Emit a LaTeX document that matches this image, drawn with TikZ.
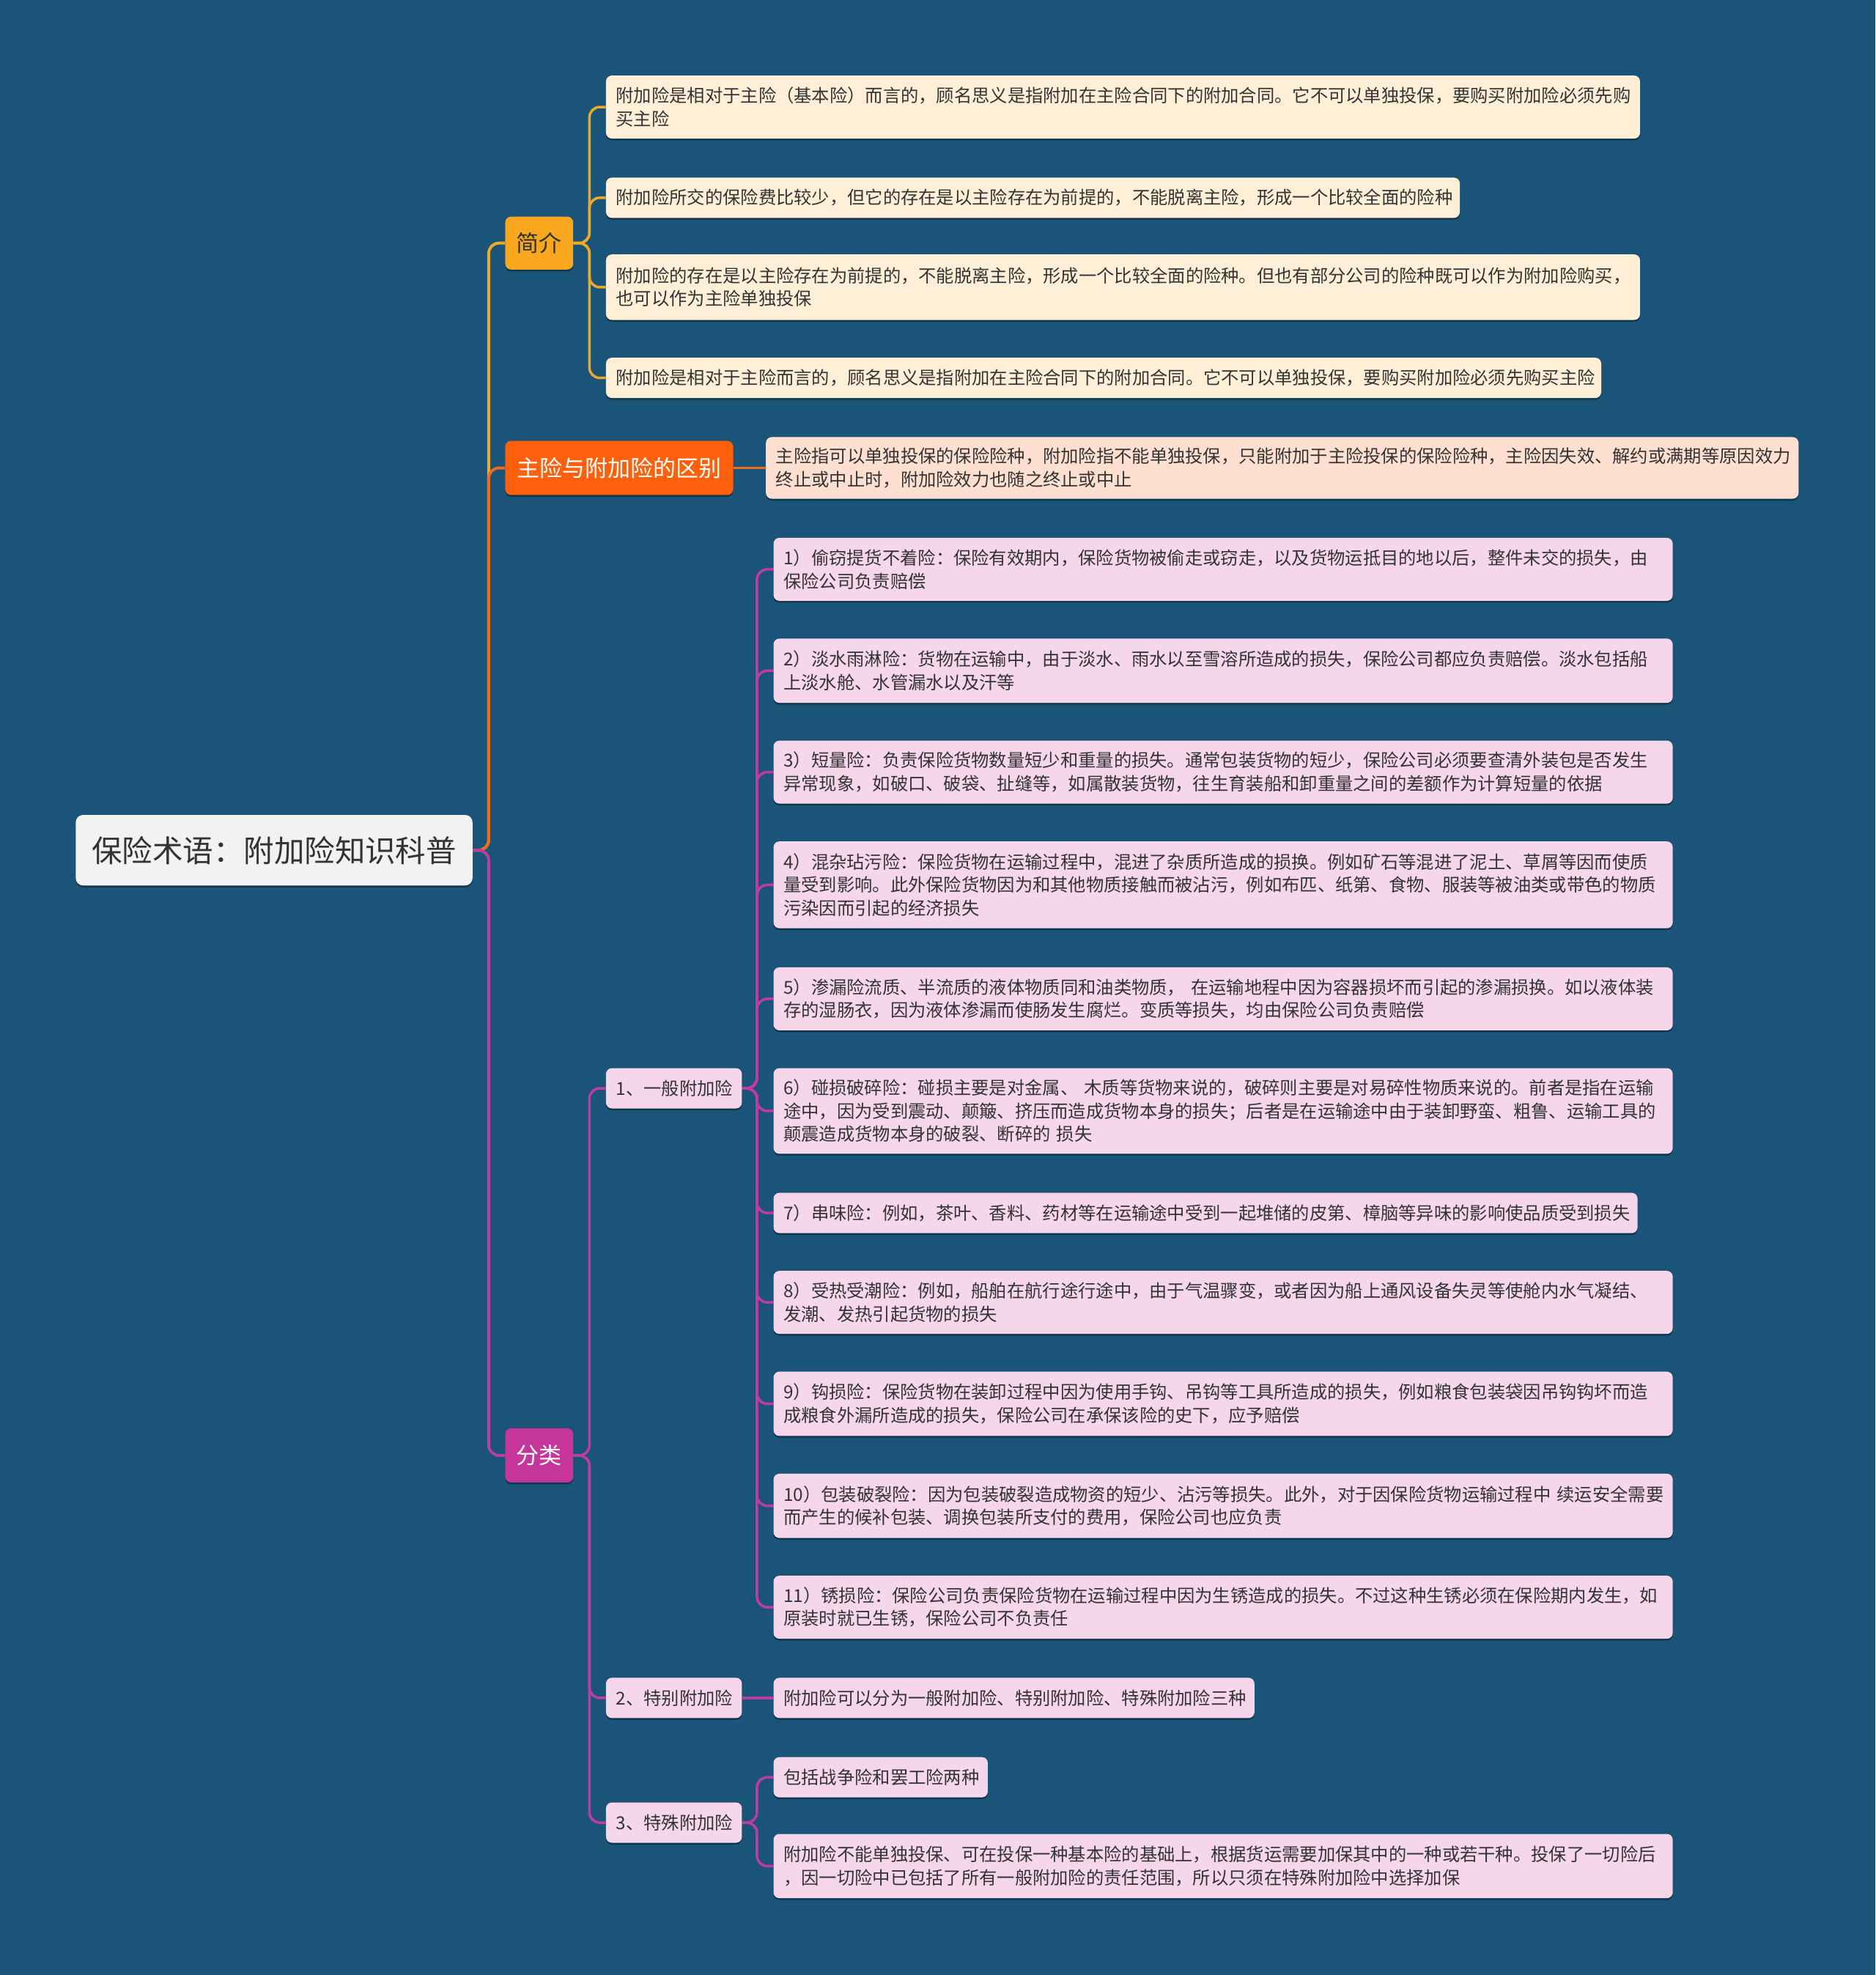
\documentclass[tikz,border=0pt]{standalone}
\usepackage{fontspec}
\setmainfont{Noto Sans CJK SC}
\usetikzlibrary{shadows}
\definecolor{bgblue}{HTML}{1A5479}
\definecolor{rootfill}{HTML}{F2F2F2}
\definecolor{txtdark}{HTML}{333333}
\definecolor{yelfill}{HTML}{F8A71F}
\definecolor{orgfill}{HTML}{FF600C}
\definecolor{magfill}{HTML}{C5359A}
\definecolor{yelline}{HTML}{EFA92A}
\definecolor{orgline}{HTML}{F26A1D}
\definecolor{magline}{HTML}{C03C9E}
\definecolor{creamfill}{HTML}{FFEFD6}
\definecolor{peachfill}{HTML}{FFDFD0}
\definecolor{pinkfill}{HTML}{F5D6EB}
\newcommand\leaffont{\fontsize{24.3pt}{31.5pt}\selectfont}
\newcommand\branchfont{\fontsize{31pt}{36pt}\selectfont}
\newcommand\rootfont{\fontsize{41.5pt}{48pt}\selectfont}
\pgfdeclarelayer{bglayer}
\pgfdeclarelayer{edgelayer}
\pgfsetlayers{bglayer,edgelayer,main}
\tikzset{
  boxbase/.style={rounded corners=8pt, anchor=west, inner ysep=2pt,
    drop shadow={shadow xshift=0pt, shadow yshift=-2.5pt, opacity=0.35, fill=black}},
  leafbox/.style={boxbase, inner xsep=13.75pt, align=left, font=\leaffont, text=txtdark},
  creambox/.style={leafbox, fill=creamfill},
  peachbox/.style={leafbox, fill=peachfill},
  pinkbox/.style={leafbox, fill=pinkfill},
  branchbox/.style={boxbase, inner xsep=0pt, align=center, font=\branchfont},
  conn/.style={line width=3.5pt, rounded corners=14pt},
  trunk/.style={line width=4pt, rounded corners=14pt},
}
\begin{document}
\begin{tikzpicture}[x=1.7193pt, y=-1.7193pt]
\begin{pgfonlayer}{bglayer}
\fill[bgblue] (0,0) rectangle (1489,1568);
\end{pgfonlayer}
\useasboundingbox (0,0) rectangle (1489,1568);

% root
\node[boxbase, rounded corners=10pt, fill=rootfill, text=txtdark, font=\rootfont,
  minimum width=541.6pt, minimum height=96.3pt, inner xsep=0pt, align=center]
  (root) at (60,675) {保险术语：附加险知识科普};

% branches
\node[branchbox, fill=yelfill, text=txtdark, minimum width=92.8pt, minimum height=72.2pt] (b1) at (401,193) {简介};
\node[branchbox, fill=orgfill, text=white, minimum width=311.2pt, minimum height=73.9pt] (b2) at (401,371.5) {主险与附加险的区别};
\node[branchbox, fill=magfill, text=white, minimum width=92.8pt, minimum height=73.9pt] (b3) at (401,1155.5) {分类};

% 简介 leaves
\node[creambox, text width=1384pt, minimum height=86pt] (j1) at (481,85) {附加险是相对于主险（基本险）而言的，顾名思义是指附加在主险合同下的附加合同。它不可以单独投保，要购买附加险必须先购\\买主险};
\node[creambox, text width=1138pt, minimum height=55pt] (j2) at (481,157) {附加险所交的保险费比较少，但它的存在是以主险存在为前提的，不能脱离主险，形成一个比较全面的险种};
\node[creambox, text width=1384pt, minimum height=89.4pt] (j3) at (481,228) {附加险的存在是以主险存在为前提的，不能脱离主险，形成一个比较全面的险种。但也有部分公司的险种既可以作为附加险购买，\\也可以作为主险单独投保};
\node[creambox, text width=1331pt, minimum height=55pt] (j4) at (481,300) {附加险是相对于主险而言的，顾名思义是指附加在主险合同下的附加合同。它不可以单独投保，要购买附加险必须先购买主险};

% 主险 leaf
\node[peachbox, text width=1382pt, minimum height=84.2pt] (z1) at (608,371.5) {主险指可以单独投保的保险险种，附加险指不能单独投保，只能附加于主险投保的保险险种，主险因失效、解约或满期等原因效力\\终止或中止时，附加险效力也随之终止或中止};

% 分类 children
\node[pinkbox, text width=158pt, minimum height=55pt] (c1) at (481,864) {1、一般附加险};
\node[pinkbox, text width=158pt, minimum height=55pt] (c2) at (481,1348) {2、特别附加险};
\node[pinkbox, text width=158pt, minimum height=55pt] (c3) at (481,1447) {3、特殊附加险};

% 一般附加险 leaves
\node[pinkbox, text width=1200pt, minimum height=86pt] (g1) at (614,452) {1）偷窃提货不着险：保险有效期内，保险货物被偷走或窃走，以及货物运抵目的地以后，整件未交的损失，由\\保险公司负责赔偿};
\node[pinkbox, text width=1200pt, minimum height=87.7pt] (g2) at (614,532.5) {2）淡水雨淋险：货物在运输中，由于淡水、雨水以至雪溶所造成的损失，保险公司都应负责赔偿。淡水包括船\\上淡水舱、水管漏水以及汗等};
\node[pinkbox, text width=1200pt, minimum height=86pt] (g3) at (614,613) {3）短量险：负责保险货物数量短少和重量的损失。通常包装货物的短少，保险公司必须要查清外装包是否发生\\异常现象，如破口、破袋、扯缝等，如属散装货物，往生育装船和卸重量之间的差额作为计算短量的依据};
\node[pinkbox, text width=1200pt, minimum height=118.6pt] (g4) at (614,702.5) {4）混杂玷污险：保险货物在运输过程中，混进了杂质所造成的损换。例如矿石等混进了泥土、草屑等因而使质\\量受到影响。此外保险货物因为和其他物质接触而被沾污，例如布匹、纸第、食物、服装等被油类或带色的物质\\污染因而引起的经济损失};
\node[pinkbox, text width=1200pt, minimum height=86pt] (g5) at (614,793) {5）渗漏险流质、半流质的液体物质同和油类物质，~在运输地程中因为容器损坏而引起的渗漏损换。如以液体装\\存的湿肠衣，因为液体渗漏而使肠发生腐烂。变质等损失，均由保险公司负责赔偿};
\node[pinkbox, text width=1200pt, minimum height=116.9pt] (g6) at (614,882) {6）碰损破碎险：碰损主要是对金属、~木质等货物来说的，破碎则主要是对易碎性物质来说的。前者是指在运输\\途中，因为受到震动、颠簸、挤压而造成货物本身的损失；后者是在运输途中由于装卸野蛮、粗鲁、运输工具的\\颠震造成货物本身的破裂、断碎的~损失};
\node[pinkbox, text width=1152pt, minimum height=55pt] (g7) at (614,963) {7）串味险：例如，茶叶、香料、药材等在运输途中受到一起堆储的皮第、樟脑等异味的影响使品质受到损失};
\node[pinkbox, text width=1200pt, minimum height=86pt] (g8) at (614,1034) {8）受热受潮险：例如，船舶在航行途行途中，由于气温骤变，或者因为船上通风设备失灵等使舱内水气凝结、\\发潮、发热引起货物的损失};
\node[pinkbox, text width=1200pt, minimum height=87.7pt] (g9) at (614,1114.5) {9）钩损险：保险货物在装卸过程中因为使用手钩、吊钩等工具所造成的损失，例如粮食包装袋因吊钩钩坏而造\\成粮食外漏所造成的损失，保险公司在承保该险的史下，应予赔偿};
\node[pinkbox, text width=1200pt, minimum height=87.7pt] (g10) at (614,1195.5) {10）包装破裂险：因为包装破裂造成物资的短少、沾污等损失。此外，对于因保险货物运输过程中~续运安全需要\\而产生的候补包装、调换包装所支付的费用，保险公司也应负责};
\node[pinkbox, text width=1200pt, minimum height=86pt] (g11) at (614,1276) {11）锈损险：保险公司负责保险货物在运输过程中因为生锈造成的损失。不过这种生锈必须在保险期内发生，如\\原装时就已生锈，保险公司不负责任};

% 特别附加险 leaf
\node[pinkbox, text width=629pt, minimum height=55pt] (t1) at (614,1348) {附加险可以分为一般附加险、特别附加险、特殊附加险三种};

% 特殊附加险 leaves
\node[pinkbox, text width=265pt, minimum height=55pt] (s1) at (614,1411) {包括战争险和罢工险两种};
\node[pinkbox, text width=1200pt, minimum height=87.7pt] (s2) at (614,1481.5) {附加险不能单独投保、可在投保一种基本险的基础上，根据货运需要加保其中的一种或若干种。投保了一切险后\\，因一切险中已包括了所有一般附加险的责任范围，所以只须在特殊附加险中选择加保};

% connectors
\begin{pgfonlayer}{edgelayer}
\draw[yelline, trunk] (root.east) -- (388,675) |- (b1.west);
\draw[orgline, trunk] (root.east) -- (388,675) |- (b2.west);
\draw[magline, trunk] (root.east) -- (388,675) |- (b3.west);
\foreach \n in {j1,j2,j3,j4}
  \draw[yelline, conn] (b1.east) -- (468,193) |- (\n.west);
\draw[orgline, conn] (b2.east) -- (z1.west);
\foreach \n in {c1,c2,c3}
  \draw[magline, conn] (b3.east) -- (468,1155.5) |- (\n.west);
\foreach \n in {g1,g2,g3,g4,g5,g6,g7,g8,g9,g10,g11}
  \draw[magline, conn] (c1.east) -- (601,864) |- (\n.west);
\draw[magline, conn] (c2.east) -- (t1.west);
\foreach \n in {s1,s2}
  \draw[magline, conn] (c3.east) -- (601,1447) |- (\n.west);
\end{pgfonlayer}
\end{tikzpicture}
\end{document}
